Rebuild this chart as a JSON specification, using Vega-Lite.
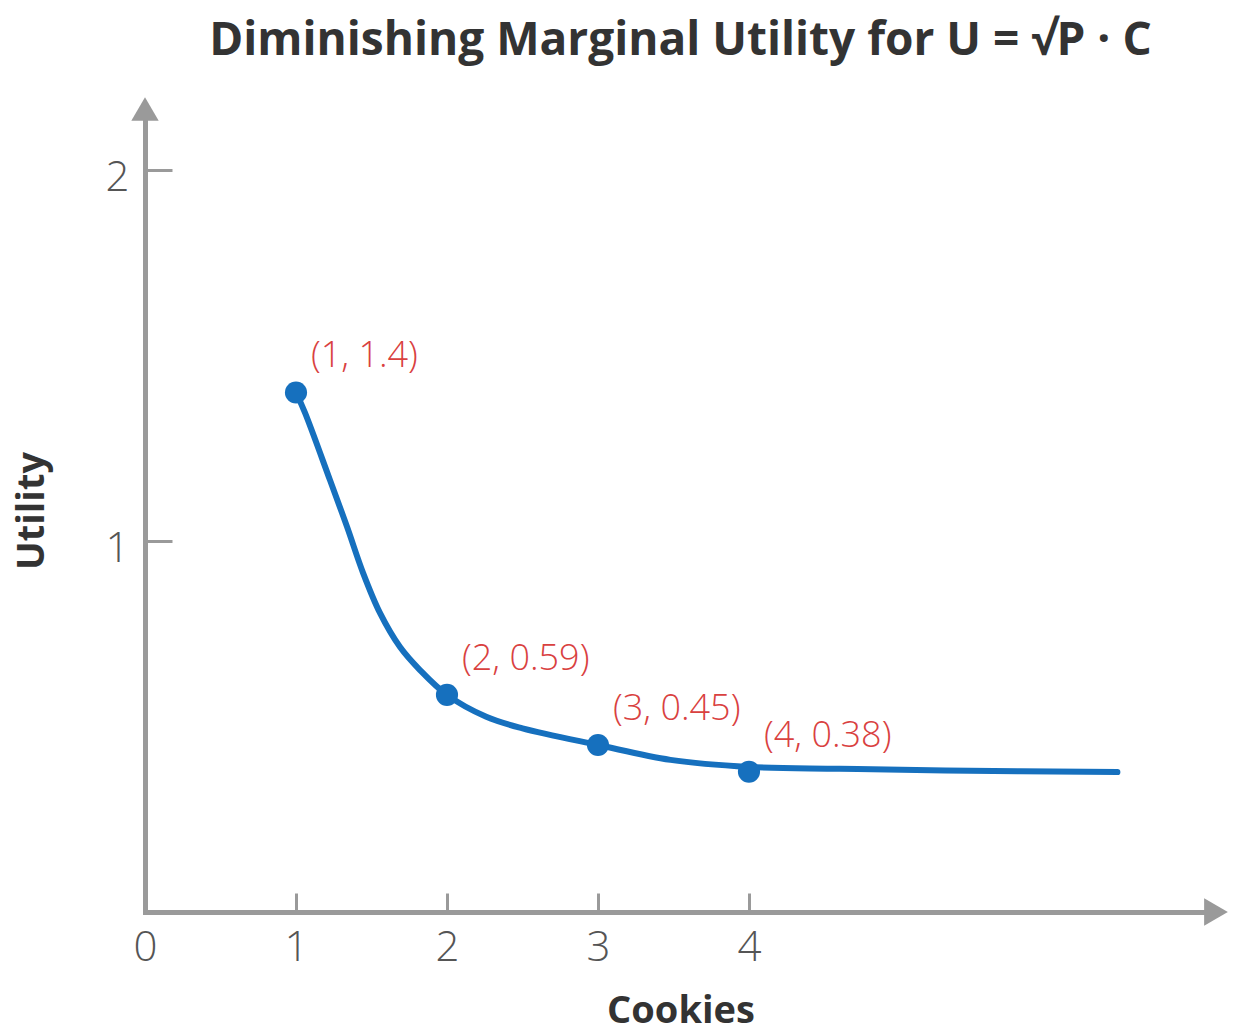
{
  "$schema": "https://vega.github.io/schema/vega-lite/v6.json",
  "width": 1071,
  "height": 803,
  "autosize": {"type": "none"},
  "padding": {"left": 145, "top": 109, "right": 21, "bottom": 122},
  "background": "white",
  "config": {"view": {"stroke": null}},
  "title": {
    "text": "Diminishing Marginal Utility for U = √P · C",
    "font": "Open Sans",
    "fontSize": 46,
    "fontWeight": "bold",
    "color": "#333333",
    "anchor": "middle",
    "offset": 32
  },
  "datasets": {
    "points": [
      {"cookies": 1, "utility": 1.4, "label": "(1, 1.4)"},
      {"cookies": 2, "utility": 0.585, "label": "(2, 0.59)"},
      {"cookies": 3, "utility": 0.45, "label": "(3, 0.45)"},
      {"cookies": 4, "utility": 0.378, "label": "(4, 0.38)"}
    ],
    "curve": [
      {"cookies": 1, "utility": 1.4},
      {"cookies": 1.06, "utility": 1.345},
      {"cookies": 1.225, "utility": 1.164},
      {"cookies": 1.338, "utility": 1.038},
      {"cookies": 1.444, "utility": 0.914},
      {"cookies": 1.556, "utility": 0.806},
      {"cookies": 1.689, "utility": 0.714},
      {"cookies": 1.821, "utility": 0.652},
      {"cookies": 2, "utility": 0.585},
      {"cookies": 2.26, "utility": 0.526},
      {"cookies": 2.5, "utility": 0.495},
      {"cookies": 3, "utility": 0.45},
      {"cookies": 3.48, "utility": 0.41},
      {"cookies": 4, "utility": 0.391},
      {"cookies": 4.6, "utility": 0.386},
      {"cookies": 5.3, "utility": 0.381},
      {"cookies": 6.44, "utility": 0.377}
    ],
    "xarrow": [{"cookies": 7.093, "utility": 0}],
    "yarrow": [{"cookies": 0, "utility": 2.164}]
  },
  "encoding": {
    "x": {
      "field": "cookies",
      "type": "quantitative",
      "scale": {"domain": [0, 7.093], "nice": false, "zero": false},
      "axis": {
        "values": [0, 1, 2, 3, 4],
        "ticks": true,
        "tickSize": -19,
        "tickWidth": 3,
        "tickColor": "#9a9a9a",
        "grid": false,
        "domainColor": "#9a9a9a",
        "domainWidth": 5,
        "domainCap": "square",
        "labelFont": "Open Sans",
        "labelFontWeight": 300,
        "labelFontSize": 42,
        "labelColor": "#555555",
        "labelPadding": 34,
        "labelFlush": false,
        "title": "Cookies",
        "titleFont": "Open Sans",
        "titleFontSize": 38,
        "titleFontWeight": "bold",
        "titleColor": "#333333",
        "titlePadding": 24
      }
    },
    "y": {
      "field": "utility",
      "type": "quantitative",
      "scale": {"domain": [0, 2.164], "nice": false, "zero": false},
      "axis": {
        "values": [1, 2],
        "ticks": true,
        "tickSize": -27,
        "tickWidth": 3,
        "tickColor": "#9a9a9a",
        "grid": false,
        "domainColor": "#9a9a9a",
        "domainWidth": 5,
        "domainCap": "square",
        "labelFont": "Open Sans",
        "labelFontWeight": 300,
        "labelFontSize": 42,
        "labelColor": "#555555",
        "labelPadding": 43,
        "labelOffset": 8,
        "labelFlush": false,
        "title": "Utility",
        "titleFont": "Open Sans",
        "titleFontSize": 38,
        "titleFontWeight": "bold",
        "titleColor": "#333333",
        "titlePadding": 54
      }
    }
  },
  "layer": [
    {
      "data": {"name": "curve"},
      "mark": {"type": "line", "interpolate": "catmull-rom", "color": "#1670be", "strokeWidth": 6, "strokeCap": "round"}
    },
    {
      "data": {"name": "points"},
      "mark": {"type": "circle", "size": 490, "opacity": 1, "color": "#1670be"}
    },
    {
      "data": {"name": "points"},
      "mark": {"type": "text", "align": "left", "baseline": "middle", "dx": 15, "dy": -36, "font": "Open Sans", "fontWeight": 300, "fontSize": 36, "color": "#d9413f"},
      "encoding": {"text": {"field": "label"}}
    },
    {
      "data": {"name": "xarrow"},
      "mark": {"type": "point", "shape": "triangle-right", "filled": true, "size": 750, "opacity": 1, "color": "#9a9a9a"}
    },
    {
      "data": {"name": "yarrow"},
      "mark": {"type": "point", "shape": "triangle-up", "filled": true, "size": 750, "opacity": 1, "color": "#9a9a9a"}
    }
  ]
}
